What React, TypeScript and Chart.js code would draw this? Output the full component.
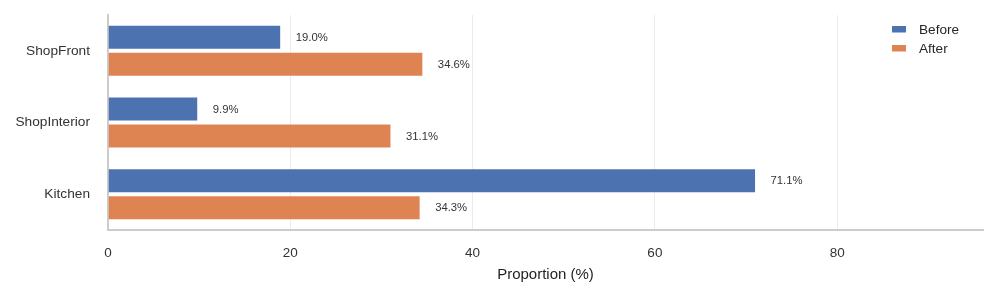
import React, { useEffect, useRef } from "react";
import { Chart, registerables } from "chart.js";

Chart.register(...registerables);

const categories = ["ShopFront", "ShopInterior", "Kitchen"];
const beforeValues = [19.0, 9.9, 71.1];
const afterValues = [34.6, 31.1, 34.3];
const seriesLabels = ["Before", "After"];
const seriesColors = ["#4C72B0", "#DD8452"];
const xTicks = [0, 20, 40, 60, 80];
const xMax = 96;
const xTitle = "Proportion (%)";

const FONT = "'Liberation Sans', Arial, Helvetica, sans-serif";

const valueLabelPlugin = {
  id: "valueLabels",
  afterDatasetsDraw(chart: any) {
    const ctx = chart.ctx;
    ctx.save();
    ctx.font = `11.3px ${FONT}`;
    ctx.fillStyle = "#333333";
    ctx.textAlign = "left";
    ctx.textBaseline = "middle";
    chart.data.datasets.forEach((ds: any, di: number) => {
      const meta = chart.getDatasetMeta(di);
      meta.data.forEach((el: any, i: number) => {
        const v = ds.data[i];
        ctx.fillText(`${v.toFixed(1)}%`, el.x + 14.5, el.y + 0.5);
      });
    });
    ctx.restore();
  },
};

const innerLegendPlugin = {
  id: "innerLegend",
  afterDraw(chart: any) {
    const ctx = chart.ctx;
    const area = chart.chartArea;
    ctx.save();
    ctx.font = `13.6px ${FONT}`;
    ctx.textAlign = "left";
    ctx.textBaseline = "middle";
    chart.data.datasets.forEach((ds: any, i: number) => {
      const x = area.right - 91;
      const y = area.top + 11 + i * 19;
      ctx.fillStyle = ds.backgroundColor;
      ctx.fillRect(x, y, 14, 6.5);
      ctx.fillStyle = "#262626";
      ctx.fillText(ds.label, x + 27, y + 4);
    });
    ctx.restore();
  },
};

export default function App() {
  const ref = useRef<HTMLCanvasElement | null>(null);

  useEffect(() => {
    document.body.style.margin = "0";
    const canvas = ref.current;
    if (!canvas) return;
    const chart = new Chart(canvas, {
      type: "bar",
      data: {
        labels: categories,
        datasets: [
          {
            label: seriesLabels[0],
            data: beforeValues,
            backgroundColor: seriesColors[0],
            borderColor: "rgba(255,255,255,0.35)",
            borderWidth: 1,
          },
          {
            label: seriesLabels[1],
            data: afterValues,
            backgroundColor: seriesColors[1],
            borderColor: "rgba(255,255,255,0.35)",
            borderWidth: 1,
          },
        ],
      },
      options: {
        indexAxis: "y",
        animation: false,
        responsive: false,
        devicePixelRatio: 1,
        datasets: {
          bar: {
            categoryPercentage: 0.753,
            barPercentage: 0.926,
          },
        },
        layout: { padding: { left: 0, right: 14, top: 15, bottom: 0 } },
        plugins: {
          legend: { display: false },
          tooltip: { enabled: false },
        },
        scales: {
          x: {
            type: "linear",
            min: 0,
            max: xMax,
            afterFit(scale: any) {
              scale.height = 69;
              scale.paddingLeft = 0;
              scale.paddingRight = 0;
            },
            afterBuildTicks(scale: any) {
              scale.ticks = xTicks.map((v) => ({ value: v }));
            },
            ticks: {
              stepSize: 20,
              includeBounds: false,
              padding: 15,
              color: "#333333",
              font: { family: FONT, size: 13.5 },
            },
            grid: {
              color: "#ebebeb",
              lineWidth: 1,
              drawTicks: false,
              tickLength: 0,
            },
            border: { display: true, color: "#cccccc", width: 2 },
            title: {
              display: true,
              text: xTitle,
              color: "#1f1f1f",
              font: { family: FONT, size: 15 },
              padding: { top: 0, bottom: 15 },
            },
          },
          y: {
            type: "category",
            afterFit(scale: any) {
              scale.width = 108;
              scale.paddingTop = 0;
              scale.paddingBottom = 0;
            },
            ticks: {
              padding: 18,
              color: "#333333",
              font: { family: FONT, size: 13.7 },
            },
            grid: { display: false, drawTicks: false, tickLength: 0 },
            border: { display: true, color: "#cccccc", width: 2 },
          },
        },
      },
      plugins: [valueLabelPlugin, innerLegendPlugin],
    });
    return () => chart.destroy();
  }, []);

  return (
    <canvas
      ref={ref}
      width={997}
      height={299}
      style={{ display: "block", width: "997px", height: "299px" }}
    />
  );
}
